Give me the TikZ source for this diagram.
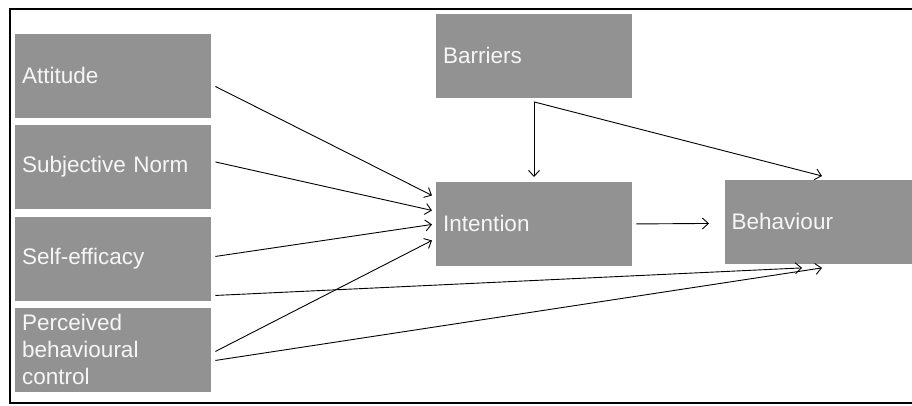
\documentclass[tikz,border=0pt]{standalone}
\usepackage{fontspec}
\setmainfont{Liberation Sans}
\usetikzlibrary{arrows.meta}
\definecolor{boxgray}{RGB}{146,146,146}
\definecolor{boxtext}{RGB}{246,246,246}

\begin{document}
\begin{tikzpicture}[x=1pt, y=-1pt,
  factor/.style={fill=boxgray, text=boxtext, anchor=north west, minimum width=196pt, minimum height=83.5pt,
    text width=182pt, inner xsep=7pt, inner ysep=2pt, align=left, font=\fontsize{22.5}{27}\selectfont},
  link/.style={->, >={Straight Barb[length=6pt,width=11pt]}, line width=0.9pt}]
\useasboundingbox (0,0) rectangle (912,406);
\draw[line width=1.8pt] (10,9) rectangle (930,403);
\foreach \nm/\txt/\y in {att/Attitude/34, sn/Subjective Norm/125, se/Self-efficacy/217, pbc/{Perceived\\behavioural\\control}/308}
	\node[factor] (\nm) at (15,\y) {\txt};
\node[factor] (bar) at (436,14) {Barriers};
\node[factor] (int) at (436,182) {Intention};
\node[factor, minimum width=202pt, text width=189pt, inner xsep=6pt] (beh) at (725,180) {Behaviour};
\draw[link] ([shift={(4,10.5)}]att.east) -- ([shift={(-4,-28.5)}]int.west);
\draw[link] ([shift={(4,-5)}]sn.east) -- ([shift={(-4,-13.5)}]int.west);
\draw[link] ([shift={(4,-2.5)}]se.east) -- ([shift={(-4,0.5)}]int.west);
\draw[link] ([shift={(4,1.5)}]pbc.east) -- ([shift={(-4,16.5)}]int.west);
\draw[link] ([shift={(4,36.5)}]se.east) -- ([shift={(77,4)}]beh.south west);
\draw[link] ([shift={(4,10.5)}]pbc.east) -- ([shift={(97,4)}]beh.south west);
\draw[link] ([shift={(98,4)}]bar.south west) -- ([shift={(98,-5)}]int.north west);
\draw[link] ([shift={(98,4)}]bar.south west) -- ([shift={(97,-4)}]beh.north west);
\draw[link] ([shift={(4,0)}]int.east) -- ([shift={(-16,1.5)}]beh.west);
\end{tikzpicture}
\end{document}
